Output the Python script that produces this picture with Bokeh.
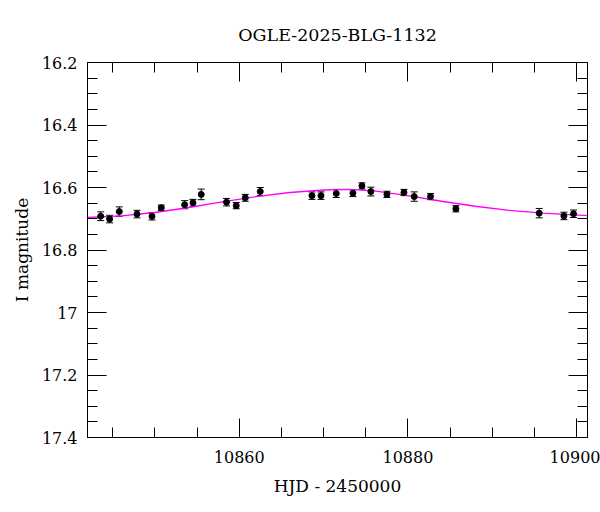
from bokeh.plotting import figure
from bokeh.models import (Range1d, FixedTicker, LinearAxis, Whisker, TeeHead,
                          ColumnDataSource, CustomJSTickFormatter)
from bokeh.embed import file_html
from bokeh.resources import INLINE

title_text = "OGLE-2025-BLG-1132"
x_label = "HJD - 2450000"
y_label = "I magnitude"

# observations
hjd = [10843.56, 10844.62, 10845.77, 10847.87, 10849.65, 10850.75, 10853.52,
       10854.51, 10855.49, 10858.49, 10859.64, 10860.71, 10862.49, 10868.62,
       10869.69, 10871.50, 10873.48, 10874.55, 10875.61, 10877.51, 10879.53,
       10880.75, 10882.68, 10885.69, 10895.57, 10898.50, 10899.64]
mag = [16.692, 16.701, 16.677, 16.685, 16.692, 16.665, 16.655,
       16.649, 16.622, 16.647, 16.658, 16.633, 16.613, 16.626,
       16.626, 16.619, 16.618, 16.595, 16.613, 16.622, 16.616,
       16.629, 16.629, 16.668, 16.682, 16.691, 16.684]
err = [0.014, 0.012, 0.015, 0.012, 0.012, 0.009, 0.013,
       0.011, 0.017, 0.012, 0.010, 0.011, 0.013, 0.012,
       0.012, 0.013, 0.011, 0.010, 0.014, 0.010, 0.010,
       0.015, 0.010, 0.010, 0.015, 0.012, 0.012]

# model curve
model_t = [10842.0, 10846.0, 10850.0, 10854.0, 10858.0, 10862.0, 10866.0,
           10870.0, 10873.0, 10876.0, 10880.0, 10884.0, 10888.0, 10892.0,
           10896.0, 10901.5]
model_mag = [16.696, 16.691, 16.680, 16.664, 16.646, 16.629, 16.616,
             16.608, 16.606, 16.611, 16.626, 16.644, 16.660, 16.673,
             16.682, 16.690]

x_major = [10840, 10860, 10880, 10900]
x_minor = [10840 + 5 * i for i in range(14)]
y_major = [16.2, 16.4, 16.6, 16.8, 17.0, 17.2, 17.4]
y_minor = [round(16.2 + 0.05 * i, 2) for i in range(25)]

FONT = "DejaVu Serif"

src = ColumnDataSource(dict(
    t=hjd, m=mag,
    lo=[a - b for a, b in zip(mag, err)],
    hi=[a + b for a, b in zip(mag, err)],
))

p = figure(frame_width=500, frame_height=375,
           min_border_left=87, min_border_right=13,
           min_border_top=62, min_border_bottom=67,
           x_range=Range1d(10842.0, 10901.3),
           y_range=Range1d(17.4, 16.2),
           output_backend="svg", toolbar_location=None,
           title=title_text)
p.background_fill_color = "white"
p.border_fill_color = "white"
p.outline_line_color = "black"
p.outline_line_width = 1
p.xgrid.visible = False
p.ygrid.visible = False

p.title.text_font = FONT
p.title.text_font_size = "17.5px"
p.title.text_font_style = "normal"
p.title.align = "center"
p.title.text_color = "black"
p.title.standoff = 35

fmt = CustomJSTickFormatter(code="return (Math.round(tick*10)/10).toString();")
blank = CustomJSTickFormatter(code="return '';")

def style(ax, ticks, minor, formatter):
    ax.ticker = FixedTicker(ticks=ticks, minor_ticks=minor)
    ax.formatter = formatter
    ax.major_tick_in = 19
    ax.major_tick_out = 0
    ax.minor_tick_in = 10
    ax.minor_tick_out = 0
    ax.major_tick_line_color = "black"
    ax.minor_tick_line_color = "black"
    ax.axis_line_color = "black"
    ax.major_label_text_font = FONT
    ax.major_label_text_font_size = "16px"
    ax.major_label_text_color = "black"
    ax.axis_label_text_font = FONT
    ax.axis_label_text_font_size = "17px"
    ax.axis_label_text_font_style = "normal"
    ax.axis_label_text_color = "black"

style(p.xaxis[0], x_major, x_minor, fmt)
style(p.yaxis[0], y_major, y_minor, fmt)
p.xaxis[0].axis_label = x_label
p.yaxis[0].axis_label = y_label
p.xaxis[0].major_label_standoff = 13
p.xaxis[0].axis_label_standoff = 10
p.yaxis[0].major_label_standoff = 10
p.yaxis[0].axis_label_standoff = 7

top = LinearAxis()
style(top, x_major, x_minor, blank)
top.major_label_standoff = 0
p.add_layout(top, "above")
right = LinearAxis()
style(right, y_major, y_minor, blank)
right.major_label_standoff = 0
p.add_layout(right, "right")

p.line(model_t, model_mag, line_color="#ff00ff", line_width=1.3)

p.add_layout(Whisker(source=src, base="t", lower="lo", upper="hi",
                     dimension="height", line_color="black", line_width=1,
                     upper_head=TeeHead(size=7, line_color="black", line_width=1),
                     lower_head=TeeHead(size=7, line_color="black", line_width=1)))
p.scatter("t", "m", source=src, size=6, color="black")

open("out.html", "w").write(file_html(p, INLINE))
